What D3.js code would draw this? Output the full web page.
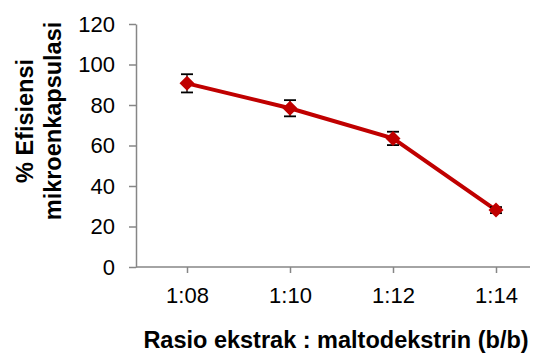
<!DOCTYPE html>
<html>
<head>
<meta charset="utf-8">
<script src="https://cdn.jsdelivr.net/npm/d3@7"></script>
<style>
  body { margin: 0; background: #fff; }
  svg { display: block; font-family: "Liberation Sans", Arial, sans-serif; }
</style>
</head>
<body>
<div id="chart"></div>
<script>
// Chart data
const categories = ['1:08', '1:10', '1:12', '1:14'];
const efficiency = [90.7, 78.4, 63.5, 28.1];
const errors = [4.5, 4.0, 3.3, 1.5];
const yTicks = [0, 20, 40, 60, 80, 100, 120];

const width = 535;
const height = 360;

const svg = d3.select('#chart')
    .append('svg')
    .attr('width', width)
    .attr('height', height);

// Scales
const x = d3.scalePoint()
    .domain(categories)
    .range([187, 496]);

const y = d3.scaleLinear()
    .domain([0, 120])
    .range([267, 24]);

const axisColor = '#868686';

// Y axis
const yAxis = svg.append('g')
    .attr('transform', 'translate(136,0)')
    .call(d3.axisLeft(y).tickValues(yTicks).tickSize(7).tickPadding(14).tickSizeOuter(0));
yAxis.select('.domain').attr('stroke', axisColor).attr('stroke-width', 1.5);
yAxis.selectAll('.tick line').attr('stroke', axisColor).attr('stroke-width', 1.5);
yAxis.selectAll('.tick text')
    .attr('fill', '#000')
    .style('font-size', '22px');

// X axis
const xAxis = svg.append('g')
    .attr('transform', 'translate(0,267)')
    .call(d3.axisBottom(x).tickSize(6).tickPadding(14).tickSizeOuter(0));
xAxis.select('.domain')
    .attr('d', 'M136,0H530')
    .attr('stroke', axisColor)
    .attr('stroke-width', 1.5);
xAxis.selectAll('.tick line').attr('stroke', axisColor).attr('stroke-width', 1.5);
xAxis.selectAll('.tick text')
    .attr('fill', '#000')
    .style('font-size', '22px');

const points = categories.map((c, i) => ({ cat: c, value: efficiency[i], err: errors[i] }));

// Line
const line = d3.line()
    .x(d => x(d.cat))
    .y(d => y(d.value));

svg.append('path')
    .datum(points)
    .attr('d', line)
    .attr('fill', 'none')
    .attr('stroke', '#C00000')
    .attr('stroke-width', 4);

// Error bars
const eb = svg.append('g').attr('class', 'errorbars');
eb.selectAll('line.v')
    .data(points)
    .join('line')
    .attr('class', 'v')
    .attr('x1', d => x(d.cat))
    .attr('x2', d => x(d.cat))
    .attr('y1', d => y(d.value + d.err))
    .attr('y2', d => y(d.value - d.err))
    .attr('stroke', '#000')
    .attr('stroke-width', 1.3);
['top', 'bottom'].forEach(side => {
    eb.selectAll('line.' + side)
        .data(points)
        .join('line')
        .attr('class', side)
        .attr('x1', d => x(d.cat) - 6)
        .attr('x2', d => x(d.cat) + 6)
        .attr('y1', d => y(side === 'top' ? d.value + d.err : d.value - d.err))
        .attr('y2', d => y(side === 'top' ? d.value + d.err : d.value - d.err))
        .attr('stroke', '#000')
        .attr('stroke-width', 1.8);
});

// Diamond markers
svg.append('g')
    .selectAll('path')
    .data(points)
    .join('path')
    .attr('transform', d => `translate(${x(d.cat)},${y(d.value)})`)
    .attr('d', 'M0,-7.5L7.5,0L0,7.5L-7.5,0Z')
    .attr('fill', '#C00000');

// Axis titles
svg.append('text')
    .attr('x', 336)
    .attr('y', 348)
    .attr('text-anchor', 'middle')
    .style('font-size', '23.5px')
    .style('font-weight', 'bold')
    .text('Rasio ekstrak : maltodekstrin (b/b)');

const yTitle = svg.append('text')
    .attr('transform', 'translate(0,121) rotate(-90)')
    .attr('text-anchor', 'middle')
    .style('font-size', '23.5px')
    .style('font-weight', 'bold');
yTitle.append('tspan').attr('x', 0).attr('y', 33).text('% Efisiensi');
yTitle.append('tspan').attr('x', 0).attr('y', 61).text('mikroenkapsulasi');
</script>
</body>
</html>
